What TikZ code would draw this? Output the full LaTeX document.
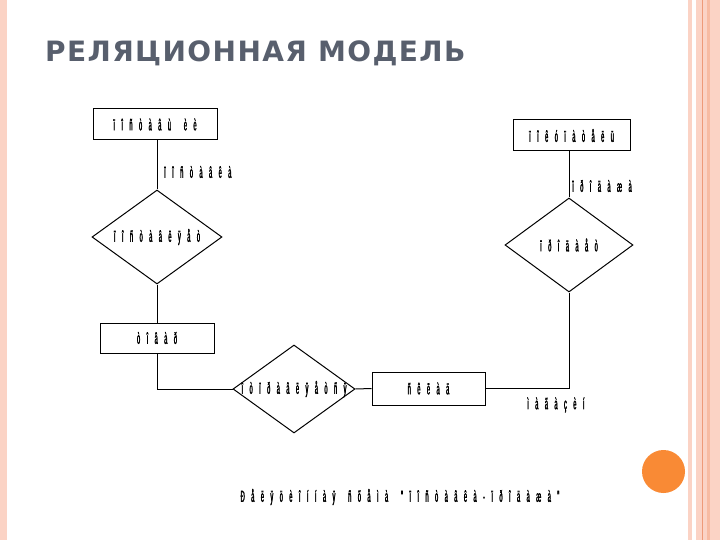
\documentclass[tikz,border=0pt]{standalone}
\usepackage{fontspec}
\newfontfamily\mojifont[FakeStretch=0.36,FakeBold=1.5,LetterSpace=40,WordSpace=1.6]{Liberation Sans}
\newfontfamily\titlefont[LetterSpace=5]{DejaVu Sans}
\newcommand\reltext[1]{\makebox[0pt]{#1}}
\usetikzlibrary{shapes.geometric}
\definecolor{slidepink}{HTML}{FBD3C5}
\definecolor{stripemid}{HTML}{F7BBA2}
\definecolor{stripeline}{HTML}{EE9A78}
\definecolor{dotorange}{HTML}{F98A35}
\definecolor{titlegray}{HTML}{585F6D}

\begin{document}
\begin{tikzpicture}[
  x=1pt, y=-1pt,
  font=\mojifont\fontsize{16}{18}\selectfont,
  ent/.style={draw, line width=1pt, inner sep=0pt},
  rel/.style={draw, line width=1pt, diamond, inner sep=0pt},
  lbl/.style={anchor=west, inner sep=0pt},
  link/.style={line width=1pt},
]
% slide frame
\useasboundingbox (0,0) rectangle (720,540);
\fill[white] (0,0) rectangle (720,540);
\fill[slidepink] (0,0) rectangle (7,540);
\fill[slidepink] (688,0) rectangle (692,540);
\fill[slidepink] (696,0) rectangle (720,540);
\fill[stripemid] (707,0) rectangle (710,540);
\fill[stripeline] (701.5,0) rectangle (702.5,540);
\fill[dotorange] (663.5,471.5) circle (21.5);
\node[anchor=west, inner sep=0pt, text=titlegray, font=\titlefont\bfseries\fontsize{28}{30}\selectfont] (title) at (45,53) {РЕЛЯЦИОННАЯ МОДЕЛЬ};

% entities and relations
\node[ent, minimum width=124, minimum height=31] (supp) at (155,124.5) {ïîñòàâù èè};
\node[ent, minimum width=117, minimum height=31] (buyer) at (571.5,135.5) {ïîêóïàòåëü};
\node[ent, minimum width=114, minimum height=30] (tovar) at (157,338) {òîâàð};
\node[ent, minimum width=113, minimum height=33] (sklad) at (428.5,388.5) {ñêëàä};
\node[rel, minimum width=130, minimum height=94] (supplies) at (157,237) {\reltext{ïîñòàâëÿåò}};
\node[rel, minimum width=122, minimum height=88] (shipped) at (294,389) {\reltext{îòïðàâëÿåòñÿ}};
\node[rel, minimum width=128, minimum height=94] (sells) at (569,245) {\reltext{ïðîäàåò}};

% links
\draw[link] (supplies.north) -- (supplies.north |- supp.south);
\draw[link] (supplies.south) -- (tovar.north);
\draw[link] (tovar.south) |- (shipped.west);
\draw[link] (shipped.east) -- (sklad.west);
\draw[link] (sklad.east) -| (sells.south);
\draw[link] (sells.north) -- (sells.north |- buyer.south);

% labels
\node[lbl] (lsupply) at (164,172) {ïîñòàâêà};
\node[lbl] (lsale) at (572,186) {ïðîäàæà};
\node[lbl] (lshop) at (527,405) {ìàãàçèí};
\node[inner sep=0pt] (caption) at (400,497) {Ðåëÿöèîííàÿ ñõåìà "ïîñòàâêà-ïðîäàæà"};
\end{tikzpicture}
\end{document}
